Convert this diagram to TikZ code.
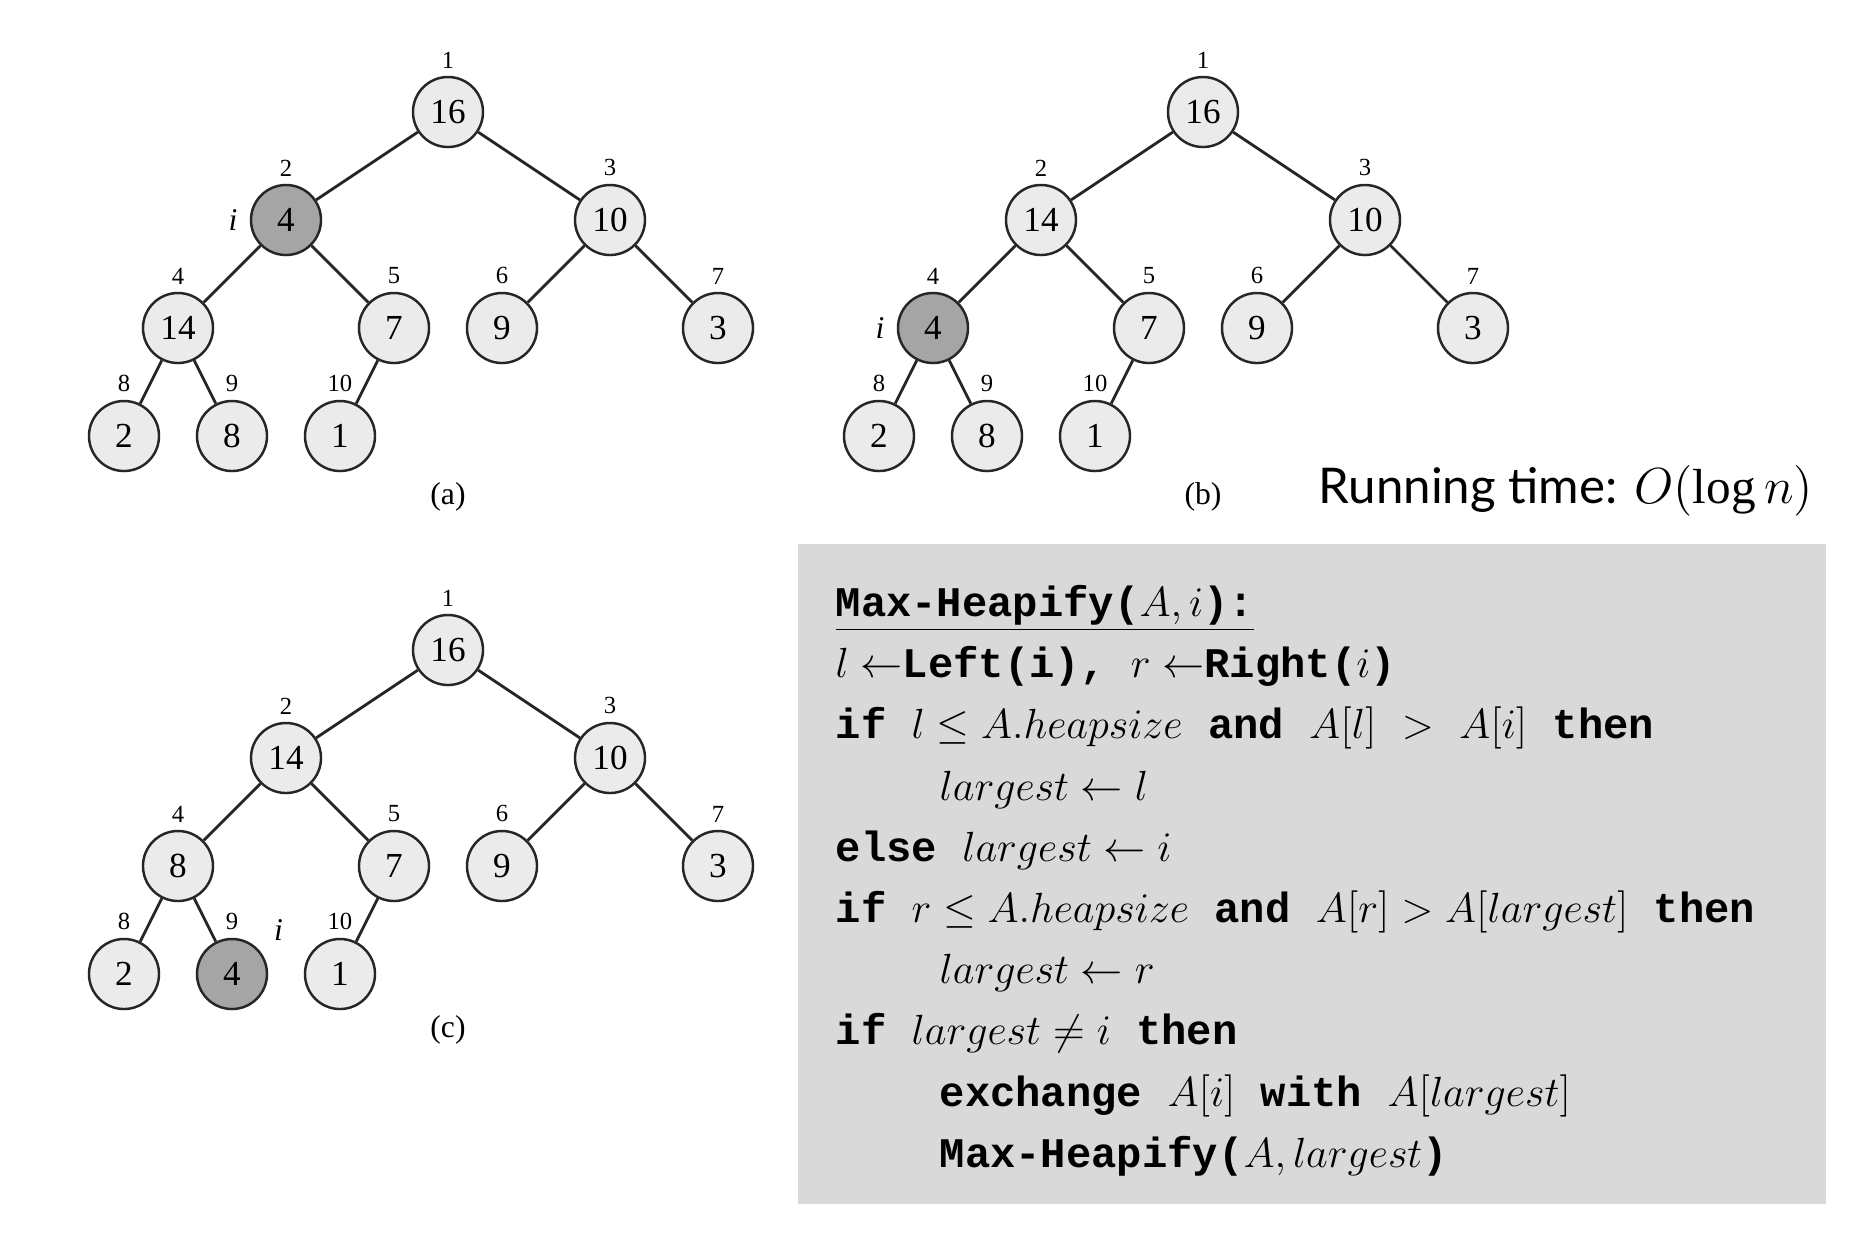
\documentclass[tikz,border=0pt]{standalone}
\usepackage{fontspec}
\setmainfont{Liberation Serif}
\setmonofont{Liberation Mono}
\newfontfamily\casualfont{Lato}
\definecolor{nodefill}{RGB}{235,235,235}
\definecolor{darkfill}{RGB}{165,165,165}
\definecolor{codebg}{RGB}{217,217,217}

\begin{document}
\begin{tikzpicture}[x=0.01cm,y=-0.01cm,
    heapnode/.style={circle,draw=black!85,line width=0.7pt,fill=nodefill,minimum size=0.7cm,inner sep=0pt,font=\fontsize{10}{11}\selectfont},
    darknode/.style={heapnode,fill=darkfill},
    idx/.style={font=\fontsize{7}{8}\selectfont,inner sep=1.5pt,label distance=0.5pt},
    ilabel/.style={font=\fontsize{9}{10}\selectfont\itshape},
    edgeline/.style={black!85,line width=0.8pt},
    codeline/.style={anchor=base west,inner sep=0pt,font=\ttfamily\bfseries\fontsize{12}{14}\selectfont}]
  \useasboundingbox (0,0) rectangle (1868,1232);

  % (a) i at node 2
  \node[heapnode,label={[idx]above:1}] (a1) at (448,112) {16};
  \node[darknode,label={[idx]above:2},label={[ilabel]left:i}] (a2) at (286,220) {4};
  \node[heapnode,label={[idx]above:3}] (a3) at (610,220) {10};
  \node[heapnode,label={[idx]above:4}] (a4) at (178,328) {14};
  \node[heapnode,label={[idx]above:5}] (a5) at (394,328) {7};
  \node[heapnode,label={[idx]above:6}] (a6) at (502,328) {9};
  \node[heapnode,label={[idx]above:7}] (a7) at (718,328) {3};
  \node[heapnode,label={[idx]above:8}] (a8) at (124,436) {2};
  \node[heapnode,label={[idx]above:9}] (a9) at (232,436) {8};
  \node[heapnode,label={[idx]above:10}] (a10) at (340,436) {1};
  \node[font=\fontsize{9}{10}\selectfont] (acap) at (448,497) {(a)};
  \draw[edgeline] (a1) -- (a2) (a1) -- (a3) (a2) -- (a4) (a2) -- (a5) (a3) -- (a6)
    (a3) -- (a7) (a4) -- (a8) (a4) -- (a9) (a5) -- (a10);

  % (b) i at node 4
  \begin{scope}[shift={(755,0)}]
  \node[heapnode,label={[idx]above:1}] (b1) at (448,112) {16};
  \node[heapnode,label={[idx]above:2}] (b2) at (286,220) {14};
  \node[heapnode,label={[idx]above:3}] (b3) at (610,220) {10};
  \node[darknode,label={[idx]above:4},label={[ilabel]left:i}] (b4) at (178,328) {4};
  \node[heapnode,label={[idx]above:5}] (b5) at (394,328) {7};
  \node[heapnode,label={[idx]above:6}] (b6) at (502,328) {9};
  \node[heapnode,label={[idx]above:7}] (b7) at (718,328) {3};
  \node[heapnode,label={[idx]above:8}] (b8) at (124,436) {2};
  \node[heapnode,label={[idx]above:9}] (b9) at (232,436) {8};
  \node[heapnode,label={[idx]above:10}] (b10) at (340,436) {1};
  \node[font=\fontsize{9}{10}\selectfont] (bcap) at (448,497) {(b)};
  \draw[edgeline] (b1) -- (b2) (b1) -- (b3) (b2) -- (b4) (b2) -- (b5) (b3) -- (b6)
    (b3) -- (b7) (b4) -- (b8) (b4) -- (b9) (b5) -- (b10);
  \end{scope}

  % (c) i at node 9
  \begin{scope}[shift={(0,538)}]
  \node[heapnode,label={[idx]above:1}] (c1) at (448,112) {16};
  \node[heapnode,label={[idx]above:2}] (c2) at (286,220) {14};
  \node[heapnode,label={[idx]above:3}] (c3) at (610,220) {10};
  \node[heapnode,label={[idx]above:4}] (c4) at (178,328) {8};
  \node[heapnode,label={[idx]above:5}] (c5) at (394,328) {7};
  \node[heapnode,label={[idx]above:6}] (c6) at (502,328) {9};
  \node[heapnode,label={[idx]above:7}] (c7) at (718,328) {3};
  \node[heapnode,label={[idx]above:8}] (c8) at (124,436) {2};
  \node[darknode,label={[idx]above:9},label={[ilabel]35:i}] (c9) at (232,436) {4};
  \node[heapnode,label={[idx]above:10}] (c10) at (340,436) {1};
  \node[font=\fontsize{9}{10}\selectfont] (ccap) at (448,492) {(c)};
  \draw[edgeline] (c1) -- (c2) (c1) -- (c3) (c2) -- (c4) (c2) -- (c5) (c3) -- (c6)
    (c3) -- (c7) (c4) -- (c8) (c4) -- (c9) (c5) -- (c10);
  \end{scope}

  \node[font=\casualfont\fontsize{14}{16}\selectfont] (rtime) at (1566,491) {Running time: $O(\log n)$};

  % pseudocode
  \fill[codebg] (798,544) rectangle (1826,1204);
  \node[codeline] (l1) at (835,616) {\underline{Max-Heapify($A,i$):}};
  \node[codeline] (l2) at (835,677) {$l\leftarrow$Left(i), $r\leftarrow$Right($i$)};
  \node[codeline] (l3) at (835,738) {if $l\leq A.heapsize$ and $A[l]$ $>$ $A[i]$ then};
  \node[codeline] (l4) at (939,800) {$largest\leftarrow l$};
  \node[codeline] (l5) at (835,861) {else $largest\leftarrow i$};
  \node[codeline] (l6) at (835,922) {if $r\leq A.heapsize$ and $A[r]>A[largest]$ then};
  \node[codeline] (l7) at (939,983) {$largest\leftarrow r$};
  \node[codeline] (l8) at (835,1044) {if $largest\neq i$ then};
  \node[codeline] (l9) at (939,1106) {exchange $A[i]$ with $A[largest]$};
  \node[codeline] (l10) at (939,1167) {Max-Heapify($A,largest$)};
\end{tikzpicture}
\end{document}
